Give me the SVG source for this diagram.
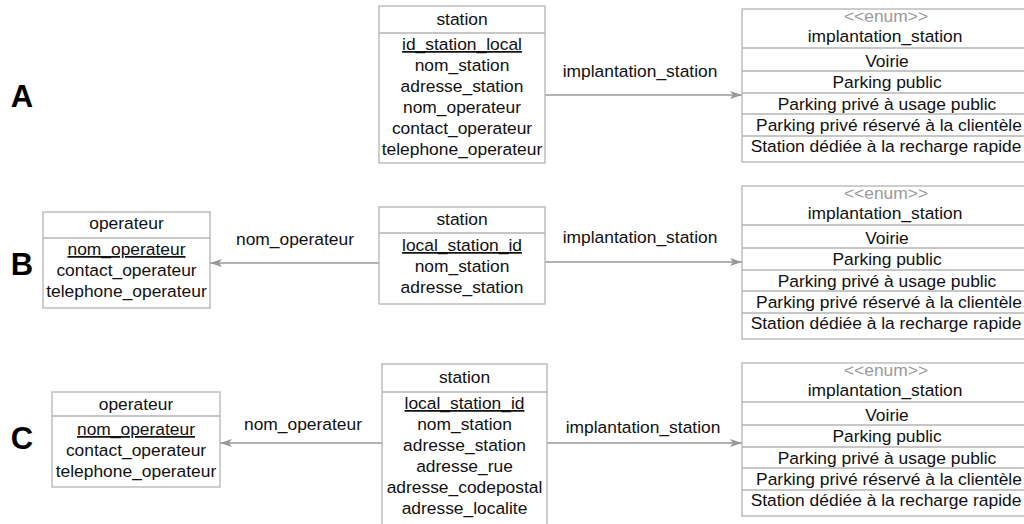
<svg xmlns="http://www.w3.org/2000/svg" width="1024" height="524" viewBox="0 0 1024 524">
<style>
text{font-family:"Liberation Sans",Arial,sans-serif;font-size:17.4px;fill:#111;text-anchor:middle}
.box{fill:#fff;stroke:#b4b4b4;stroke-width:1.3}
.sep{stroke:#b4b4b4;stroke-width:1.3}
.st{fill:#9a9a9a}
.key{text-decoration:underline}
.lbl{font-size:31px;font-weight:bold;fill:#000}
.edge{stroke:#999;stroke-width:1.3;fill:none;marker-end:url(#arr)}
</style>
<defs>
<marker id="arr" viewBox="0 0 12 8" refX="12" refY="4" markerWidth="12" markerHeight="8" markerUnits="userSpaceOnUse" orient="auto">
<path d="M0,0 L12,4 L0,8 L3,4 z" fill="#999"/>
</marker>
</defs>

<text class="lbl" x="22" y="107">A</text>
<text class="lbl" x="22" y="275">B</text>
<text class="lbl" x="22" y="449">C</text>

<g id="connectors">
<path class="edge" d="M545,95 L742,95"/>
<text x="640" y="77">implantation_station</text>
<path class="edge" d="M379,263 L210,263"/>
<text x="295" y="245">nom_operateur</text>
<path class="edge" d="M545,262 L742,262"/>
<text x="640" y="243">implantation_station</text>
<path class="edge" d="M382,443 L220,443"/>
<text x="303" y="430">nom_operateur</text>
<path class="edge" d="M547,443 L742,443"/>
<text x="643" y="433">implantation_station</text>
</g>

<g id="stationA">
<rect class="box" x="379" y="6" width="166" height="157"/>
<line class="sep" x1="379" y1="33" x2="545" y2="33"/>
<text x="462" y="25">station</text>
<text class="key" x="462" y="50">id_station_local</text>
<text x="462" y="71">nom_station</text>
<text x="462" y="92">adresse_station</text>
<text x="462" y="113">nom_operateur</text>
<text x="462" y="134">contact_operateur</text>
<text x="462" y="155">telephone_operateur</text>
</g>

<g id="enumA">
<rect class="box" x="742" y="9" width="290" height="153"/>
<line class="sep" x1="742" y1="48" x2="1032" y2="48"/>
<line class="sep" x1="742" y1="71" x2="1032" y2="71"/>
<line class="sep" x1="742" y1="93" x2="1032" y2="93"/>
<line class="sep" x1="742" y1="114" x2="1032" y2="114"/>
<line class="sep" x1="742" y1="136" x2="1032" y2="136"/>
<text class="st" x="886" y="22">&lt;&lt;enum&gt;&gt;</text>
<text x="885" y="42">implantation_station</text>
<text x="887" y="67">Voirie</text>
<text x="887" y="88">Parking public</text>
<text x="887" y="110">Parking privé à usage public</text>
<text x="889" y="131">Parking privé réservé à la clientèle</text>
<text x="886" y="152">Station dédiée à la recharge rapide</text>
</g>

<g id="operateurB">
<rect class="box" x="43" y="212" width="167" height="96"/>
<line class="sep" x1="43" y1="238" x2="210" y2="238"/>
<text x="126.5" y="229">operateur</text>
<text class="key" x="126.5" y="255">nom_operateur</text>
<text x="126.5" y="276">contact_operateur</text>
<text x="126.5" y="297">telephone_operateur</text>
</g>

<g id="stationB">
<rect class="box" x="379" y="207" width="166" height="97"/>
<line class="sep" x1="379" y1="233" x2="545" y2="233"/>
<text x="462" y="225">station</text>
<text class="key" x="462" y="251">local_station_id</text>
<text x="462" y="272">nom_station</text>
<text x="462" y="293">adresse_station</text>
</g>

<g id="enumB">
<rect class="box" x="742" y="186" width="290" height="153"/>
<line class="sep" x1="742" y1="225" x2="1032" y2="225"/>
<line class="sep" x1="742" y1="248" x2="1032" y2="248"/>
<line class="sep" x1="742" y1="270" x2="1032" y2="270"/>
<line class="sep" x1="742" y1="291" x2="1032" y2="291"/>
<line class="sep" x1="742" y1="313" x2="1032" y2="313"/>
<text class="st" x="886" y="199">&lt;&lt;enum&gt;&gt;</text>
<text x="885" y="219">implantation_station</text>
<text x="887" y="244">Voirie</text>
<text x="887" y="265">Parking public</text>
<text x="887" y="287">Parking privé à usage public</text>
<text x="889" y="308">Parking privé réservé à la clientèle</text>
<text x="886" y="329">Station dédiée à la recharge rapide</text>
</g>

<g id="operateurC">
<rect class="box" x="52" y="392" width="168" height="95"/>
<line class="sep" x1="52" y1="416" x2="220" y2="416"/>
<text x="136" y="410">operateur</text>
<text class="key" x="136" y="435">nom_operateur</text>
<text x="136" y="456">contact_operateur</text>
<text x="136" y="477">telephone_operateur</text>
</g>

<g id="stationC">
<rect class="box" x="382" y="364" width="165" height="170"/>
<line class="sep" x1="382" y1="392" x2="547" y2="392"/>
<text x="464.5" y="383">station</text>
<text class="key" x="464.5" y="409">local_station_id</text>
<text x="464.5" y="430">nom_station</text>
<text x="464.5" y="451">adresse_station</text>
<text x="464.5" y="472">adresse_rue</text>
<text x="464.5" y="493">adresse_codepostal</text>
<text x="464.5" y="514">adresse_localite</text>
</g>

<g id="enumC">
<rect class="box" x="742" y="363" width="290" height="153"/>
<line class="sep" x1="742" y1="402" x2="1032" y2="402"/>
<line class="sep" x1="742" y1="425" x2="1032" y2="425"/>
<line class="sep" x1="742" y1="447" x2="1032" y2="447"/>
<line class="sep" x1="742" y1="468" x2="1032" y2="468"/>
<line class="sep" x1="742" y1="490" x2="1032" y2="490"/>
<text class="st" x="886" y="376">&lt;&lt;enum&gt;&gt;</text>
<text x="885" y="396">implantation_station</text>
<text x="887" y="421">Voirie</text>
<text x="887" y="442">Parking public</text>
<text x="887" y="464">Parking privé à usage public</text>
<text x="889" y="485">Parking privé réservé à la clientèle</text>
<text x="886" y="506">Station dédiée à la recharge rapide</text>
</g>
</svg>
